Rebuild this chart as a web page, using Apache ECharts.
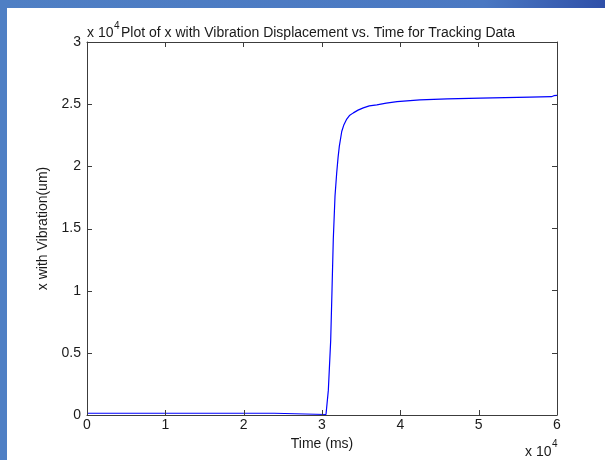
<!DOCTYPE html>
<html>
<head>
<meta charset="utf-8">
<script src="https://cdn.jsdelivr.net/npm/echarts@6/dist/echarts.min.js"></script>
<style>
  html, body { margin: 0; padding: 0; background: #ffffff; }
  #chart { width: 605px; height: 460px; }
</style>
</head>
<body>
<div id="chart"></div>
<script>
// time in ms, displacement in um
const timeMs = [0, 23900, 24000, 30510, 30810, 31110, 31280, 31440, 31660, 31880, 32050, 32210,
  32520, 32800, 33160, 33500, 34000, 34600, 35270, 36040, 37000, 38200, 39580, 42500,
  46000, 50200, 56550, 59300, 59600, 60000]
const xVib = [140, 140, 40, 40, 2000, 6000, 10100, 14100, 17600, 19500, 20700, 21600,
  22800, 23350, 23800, 24080, 24300, 24520, 24700, 24860, 24950, 25080, 25200, 25350,
  25420, 25480, 25560, 25600, 25680, 25700]
const xTicks = [0, 10000, 20000, 30000, 40000, 50000, 60000]
const yTicks = [0, 5000, 10000, 15000, 20000, 25000, 30000]

const font = "'Liberation Sans', Arial, sans-serif"
const txt = '#1a1a1a'
const axisCol = '#3c3c3c'

const points = timeMs.map((t, i) => [t, xVib[i]])
const fmt = v => String(v / 1e4)
const xMin = xTicks[0], xMax = xTicks[xTicks.length - 1]
const yMin = yTicks[0], yMax = yTicks[yTicks.length - 1]

const chart = echarts.init(document.getElementById('chart'))

// 上、右边框：向内刻度
const boxAxis = {
  type: 'value',
  axisLine: { show: true, onZero: false, lineStyle: { color: axisCol, width: 1 } },
  axisTick: { show: true, inside: true, length: 5, lineStyle: { color: axisCol } },
  axisLabel: { show: false }, splitLine: { show: false }
}

let options = {
  backgroundColor: '#ffffff',
  animation: false,
  textStyle: { fontFamily: font },
  grid: { left: 87, right: 48, top: 42, bottom: 45 },
  xAxis: [
    {
      type: 'value', min: xMin, max: xMax, interval: 10000,
      name: 'Time (ms)', nameLocation: 'middle', nameGap: 21,
      nameTextStyle: { fontSize: 14, color: txt, fontFamily: font },
      axisLine: { show: true, onZero: false, lineStyle: { color: axisCol, width: 1 } },
      axisTick: { show: false },
      axisLabel: { formatter: fmt, fontSize: 14, color: txt, margin: 3, fontFamily: font },
      splitLine: { show: false }
    },
    Object.assign({}, boxAxis, { position: 'top', min: xMin, max: xMax, interval: 10000 })
  ],
  yAxis: [
    {
      type: 'value', min: yMin, max: yMax, interval: 5000,
      name: 'x with Vibration(um)', nameLocation: 'middle', nameGap: 34,
      nameTextStyle: { fontSize: 14, color: txt, fontFamily: font },
      axisLine: { show: true, onZero: false, lineStyle: { color: axisCol, width: 1 } },
      axisTick: { show: false },
      axisLabel: { formatter: fmt, fontSize: 14, color: txt, margin: 6, fontFamily: font },
      splitLine: { show: false }
    },
    Object.assign({}, boxAxis, { position: 'right', min: yMin, max: yMax, interval: 5000 })
  ],
  series: [
    {
      type: 'line', data: points, showSymbol: false, smooth: false,
      lineStyle: { color: '#0000ff', width: 1.2 }
    }
  ],
  graphic: [
    // blue slide border
    { type: 'rect', left: 0, top: 0, z: -1, shape: { width: 605, height: 8 },
      style: { fill: new echarts.graphic.LinearGradient(0, 0, 1, 0, [
        { offset: 0, color: '#4f7fc4' }, { offset: 0.8, color: '#4a78c2' }, { offset: 1, color: '#2f4fa8' }]) } },
    { type: 'rect', left: 0, top: 0, z: -1, shape: { width: 7, height: 460 },
      style: { fill: '#4f7fc4' } },
    // top exponent + title
    { type: 'text', left: 87, top: 26, style: { text: 'x 10', font: '14px ' + font, fill: txt } },
    { type: 'text', left: 114, top: 21, style: { text: '4', font: '10px ' + font, fill: txt } },
    { type: 'text', left: 121, top: 26,
      style: { text: 'Plot of x with Vibration Displacement vs. Time for Tracking Data', font: '14px ' + font, fill: txt } },
    // bottom exponent
    { type: 'text', left: 525, top: 445, style: { text: 'x 10', font: '14px ' + font, fill: txt } },
    { type: 'text', left: 552, top: 439, style: { text: '4', font: '10px ' + font, fill: txt } }
  ]
}

chart.setOption(options)

// 下、左边框的向内刻度，位置由坐标轴换算
const tickLen = 5
const x0 = chart.convertToPixel({ xAxisIndex: 0 }, xMin)
const y0 = chart.convertToPixel({ yAxisIndex: 0 }, yMin)
const tickLines = []
xTicks.forEach(t => {
  const px = Math.round(chart.convertToPixel({ xAxisIndex: 0 }, t)) + 0.5
  tickLines.push({ type: 'line', z: 10, silent: true,
    shape: { x1: px, y1: y0, x2: px, y2: y0 - tickLen },
    style: { stroke: axisCol, lineWidth: 1 } })
})
yTicks.forEach(v => {
  const py = Math.round(chart.convertToPixel({ yAxisIndex: 0 }, v)) + 0.5
  tickLines.push({ type: 'line', z: 10, silent: true,
    shape: { x1: x0, y1: py, x2: x0 + tickLen, y2: py },
    style: { stroke: axisCol, lineWidth: 1 } })
})
chart.setOption({ graphic: options.graphic.concat(tickLines) })
</script>
</body>
</html>
